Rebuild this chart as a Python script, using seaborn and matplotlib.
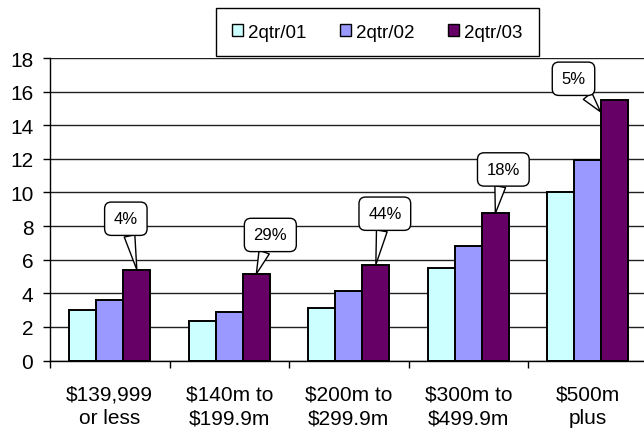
import numpy as np
import pandas as pd
import matplotlib
matplotlib.use("Agg")
import matplotlib.pyplot as plt
import seaborn as sns

categories = [r"\$139,999" + "\nor less", r"\$140m to" + "\n" + r"\$199.9m",
              r"\$200m to" + "\n" + r"\$299.9m", r"\$300m to" + "\n" + r"\$499.9m",
              r"\$500m" + "\nplus"]
series_names = ["2qtr/01", "2qtr/02", "2qtr/03"]
q01 = [3.0, 2.35, 3.1, 5.5, 10.05]
q02 = [3.6, 2.9, 4.15, 6.8, 11.95]
q03 = [5.4, 5.15, 5.7, 8.75, 15.5]
changes = ["4%", "29%", "44%", "18%", "5%"]
yticks = list(range(0, 19, 2))
title = "Home Sales"

colors = ["#CCFFFF", "#9999FF", "#660066"]

# callout layout (box centre offset from the pointer tip, pixels) and tip shifts
box_dx = [-11, 14, 9, 8, -27]
box_dy = [51, 39, 51, 44, 33]
tip_shift_x = [0, 0, 0, 0, -0.12]
tip_shift_y = [0, 0, 0, 0, -0.7]

plt.rcParams['font.family'] = ['Liberation Sans', 'DejaVu Sans']

rows = []
for name, vals in zip(series_names, [q01, q02, q03]):
    for c, v in zip(categories, vals):
        rows.append({"cat": c, "series": name, "value": v})
df = pd.DataFrame(rows)

fig = plt.figure(figsize=(6.44, 4.39), dpi=100)
ax = fig.add_axes([50 / 644, 1 - 361.5 / 439, 597.5 / 644, 302.5 / 439])

sns.barplot(data=df, x="cat", y="value", hue="series", order=categories,
            hue_order=series_names, palette=colors, width=0.68,
            edgecolor="black", linewidth=1.4, saturation=1, ax=ax, zorder=2)

handles, labels = ax.get_legend_handles_labels()
if ax.get_legend() is not None:
    ax.get_legend().remove()

ax.set_xlim(-0.5, 4.5)
ax.set_ylim(0, 18)
ax.set_yticks(yticks)
ax.set_yticklabels([str(t) for t in yticks], fontsize=15)
ax.set_xticks(range(len(categories)))
ax.set_xticklabels(categories, fontsize=15, linespacing=1.35)
ax.set_xticks(np.arange(-0.5, len(categories), 1), minor=True)
ax.tick_params(axis='x', which='major', length=0, pad=17)
ax.tick_params(axis='x', which='minor', length=5, width=1, color='black')
ax.tick_params(axis='y', length=5, width=1, color='black', pad=7)
ax.set_xlabel("")
ax.set_ylabel("")
ax.yaxis.grid(True, color='#202020', linewidth=1)
ax.set_axisbelow(True)
for s in ['top', 'right']:
    ax.spines[s].set_visible(False)
for s in ['left', 'bottom']:
    ax.spines[s].set_color('black')
    ax.spines[s].set_linewidth(1)

# callouts on the 2qtr/03 bars
bar_off = 0.68 / 3
for i, (lab, v) in enumerate(zip(changes, q03)):
    tip = (i + bar_off + tip_shift_x[i], v + tip_shift_y[i])
    ax.annotate(lab, xy=tip, xytext=(box_dx[i], box_dy[i]),
                textcoords='offset pixels', ha='center', va='center',
                fontsize=12, zorder=5,
                bbox=dict(boxstyle='round,pad=0.55,rounding_size=0.4',
                          fc='white', ec='black', lw=1),
                arrowprops=dict(arrowstyle='wedge,tail_width=0.65,shrink_factor=0.5',
                                fc='white', ec='black', lw=1,
                                shrinkA=0, shrinkB=0))

fig.text(345 / 644, 1.0 - 1 / 439, title, ha='center', va='bottom', fontsize=15,
         color='black', zorder=1)

leg = fig.legend(handles, labels, loc='center',
                 bbox_to_anchor=(377.5 / 644, 1 - 33 / 439), ncol=3,
                 fontsize=13.5, frameon=True, fancybox=False, framealpha=1,
                 edgecolor='black', borderpad=0.85, handlelength=0.55,
                 handleheight=0.55, handletextpad=0.3, columnspacing=1.8,
                 borderaxespad=0)
leg.get_frame().set_linewidth(1)
for h in leg.legend_handles:
    h.set_linewidth(1)
leg.set_zorder(10)

fig.savefig("out.png", dpi=100)
